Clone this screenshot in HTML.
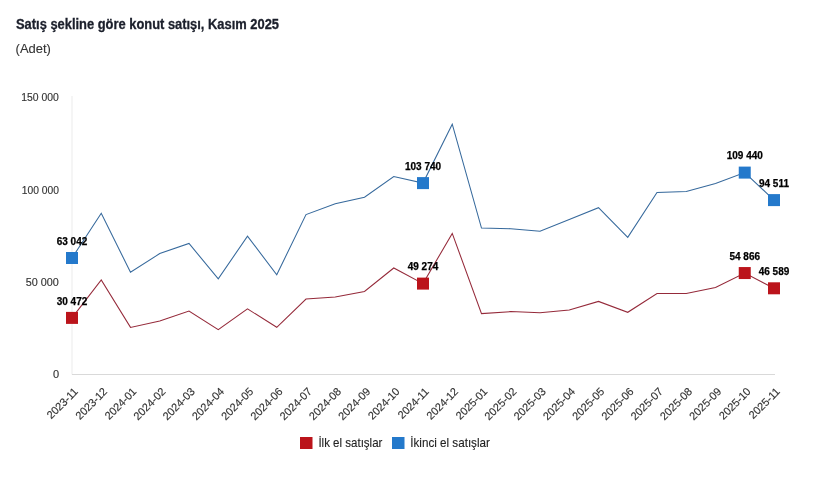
<!DOCTYPE html>
<html><head><meta charset="utf-8"><style>
html,body{margin:0;padding:0;background:#fff;}
body{width:819px;height:504px;overflow:hidden;position:relative;font-family:"Liberation Sans",sans-serif;}
svg{position:absolute;left:0;top:0;will-change:transform;}
.yl{font-size:11px;fill:#333;stroke:#333;stroke-width:0.15px;}
.xl{font-size:11px;fill:#333;stroke:#333;stroke-width:0.15px;}
.tt{font-size:14px;font-weight:bold;fill:#1b1f2b;stroke:#1b1f2b;stroke-width:0.3px;}
.st{font-size:12.5px;fill:#333;stroke:#333;stroke-width:0.1px;}
.dl{font-size:10px;font-weight:bold;fill:#000;stroke:#000;stroke-width:0.25px;}
.lg{font-size:13px;fill:#222;stroke:#222;stroke-width:0.12px;}
</style></head><body>
<svg width="819" height="504" viewBox="0 0 819 504" font-family="Liberation Sans, sans-serif">
<line x1="72" y1="96" x2="72" y2="374.5" stroke="#ebebeb" stroke-width="1"/>
<line x1="72" y1="374.5" x2="775" y2="374.5" stroke="#d9d9d9" stroke-width="1"/>
<text x="21.30" y="101.3" textLength="37.6" lengthAdjust="spacingAndGlyphs" class="yl">150 000</text>
<text x="21.70" y="193.5" textLength="37.2" lengthAdjust="spacingAndGlyphs" class="yl">100 000</text>
<text x="25.80" y="285.7" textLength="33.1" lengthAdjust="spacingAndGlyphs" class="yl">50 000</text>
<text x="59" y="377.5" text-anchor="end" class="yl">0</text>
<text transform="translate(78.70,392.2) rotate(-45)" text-anchor="end" textLength="38.76" lengthAdjust="spacing" class="xl">2023-11</text>
<text transform="translate(107.95,392.2) rotate(-45)" text-anchor="end" textLength="39.56" lengthAdjust="spacing" class="xl">2023-12</text>
<text transform="translate(137.20,392.2) rotate(-45)" text-anchor="end" textLength="39.56" lengthAdjust="spacing" class="xl">2024-01</text>
<text transform="translate(166.45,392.2) rotate(-45)" text-anchor="end" textLength="40.36" lengthAdjust="spacing" class="xl">2024-02</text>
<text transform="translate(195.70,392.2) rotate(-45)" text-anchor="end" textLength="40.36" lengthAdjust="spacing" class="xl">2024-03</text>
<text transform="translate(224.95,392.2) rotate(-45)" text-anchor="end" textLength="40.36" lengthAdjust="spacing" class="xl">2024-04</text>
<text transform="translate(254.20,392.2) rotate(-45)" text-anchor="end" textLength="40.36" lengthAdjust="spacing" class="xl">2024-05</text>
<text transform="translate(283.45,392.2) rotate(-45)" text-anchor="end" textLength="40.36" lengthAdjust="spacing" class="xl">2024-06</text>
<text transform="translate(312.70,392.2) rotate(-45)" text-anchor="end" textLength="40.36" lengthAdjust="spacing" class="xl">2024-07</text>
<text transform="translate(341.95,392.2) rotate(-45)" text-anchor="end" textLength="40.36" lengthAdjust="spacing" class="xl">2024-08</text>
<text transform="translate(371.20,392.2) rotate(-45)" text-anchor="end" textLength="40.36" lengthAdjust="spacing" class="xl">2024-09</text>
<text transform="translate(400.45,392.2) rotate(-45)" text-anchor="end" textLength="39.56" lengthAdjust="spacing" class="xl">2024-10</text>
<text transform="translate(429.70,392.2) rotate(-45)" text-anchor="end" textLength="38.76" lengthAdjust="spacing" class="xl">2024-11</text>
<text transform="translate(458.95,392.2) rotate(-45)" text-anchor="end" textLength="39.56" lengthAdjust="spacing" class="xl">2024-12</text>
<text transform="translate(488.20,392.2) rotate(-45)" text-anchor="end" textLength="39.56" lengthAdjust="spacing" class="xl">2025-01</text>
<text transform="translate(517.45,392.2) rotate(-45)" text-anchor="end" textLength="40.36" lengthAdjust="spacing" class="xl">2025-02</text>
<text transform="translate(546.70,392.2) rotate(-45)" text-anchor="end" textLength="40.36" lengthAdjust="spacing" class="xl">2025-03</text>
<text transform="translate(575.95,392.2) rotate(-45)" text-anchor="end" textLength="40.36" lengthAdjust="spacing" class="xl">2025-04</text>
<text transform="translate(605.20,392.2) rotate(-45)" text-anchor="end" textLength="40.36" lengthAdjust="spacing" class="xl">2025-05</text>
<text transform="translate(634.45,392.2) rotate(-45)" text-anchor="end" textLength="40.36" lengthAdjust="spacing" class="xl">2025-06</text>
<text transform="translate(663.70,392.2) rotate(-45)" text-anchor="end" textLength="40.36" lengthAdjust="spacing" class="xl">2025-07</text>
<text transform="translate(692.95,392.2) rotate(-45)" text-anchor="end" textLength="40.36" lengthAdjust="spacing" class="xl">2025-08</text>
<text transform="translate(722.20,392.2) rotate(-45)" text-anchor="end" textLength="40.36" lengthAdjust="spacing" class="xl">2025-09</text>
<text transform="translate(751.45,392.2) rotate(-45)" text-anchor="end" textLength="39.56" lengthAdjust="spacing" class="xl">2025-10</text>
<text transform="translate(780.70,392.2) rotate(-45)" text-anchor="end" textLength="38.76" lengthAdjust="spacing" class="xl">2025-11</text>
<polyline points="72.00,317.90 101.25,280.00 130.50,327.40 159.75,320.90 189.00,311.00 218.25,329.60 247.50,308.90 276.75,327.30 306.00,299.10 335.25,296.90 364.50,291.40 393.75,268.00 423.00,283.60 452.25,233.40 481.50,313.60 510.75,311.60 540.00,312.80 569.25,309.90 598.50,301.40 627.75,312.30 657.00,293.50 686.25,293.50 715.50,287.40 744.75,273.05 774.00,288.30" fill="none" stroke="#952a3a" stroke-width="1.05" stroke-linejoin="miter"/>
<polyline points="72.00,258.00 101.25,213.20 130.50,272.30 159.75,253.60 189.00,243.40 218.25,278.90 247.50,236.10 276.75,274.80 306.00,214.60 335.25,203.80 364.50,197.30 393.75,176.60 423.00,183.10 452.25,124.20 481.50,228.10 510.75,228.70 540.00,231.20 569.25,219.40 598.50,207.70 627.75,237.30 657.00,192.50 686.25,191.50 715.50,183.40 744.75,172.60 774.00,200.10" fill="none" stroke="#36699c" stroke-width="1.05" stroke-linejoin="miter"/>
<rect x="66.00" y="252.00" width="12" height="12" fill="#2479cb"/>
<rect x="66.00" y="311.90" width="12" height="12" fill="#bb141b"/>
<rect x="417.00" y="177.10" width="12" height="12" fill="#2479cb"/>
<rect x="417.00" y="277.60" width="12" height="12" fill="#bb141b"/>
<rect x="738.75" y="166.60" width="12" height="12" fill="#2479cb"/>
<rect x="738.75" y="267.05" width="12" height="12" fill="#bb141b"/>
<rect x="768.00" y="194.10" width="12" height="12" fill="#2479cb"/>
<rect x="768.00" y="282.30" width="12" height="12" fill="#bb141b"/>
<text x="72.00" y="244.60" text-anchor="middle" class="dl">63 042</text>
<text x="72.00" y="304.50" text-anchor="middle" class="dl">30 472</text>
<text x="423.00" y="169.70" text-anchor="middle" class="dl">103 740</text>
<text x="423.00" y="270.20" text-anchor="middle" class="dl">49 274</text>
<text x="744.75" y="159.20" text-anchor="middle" class="dl">109 440</text>
<text x="744.75" y="259.65" text-anchor="middle" class="dl">54 866</text>
<text x="774.00" y="186.70" text-anchor="middle" class="dl">94 511</text>
<text x="774.00" y="274.90" text-anchor="middle" class="dl">46 589</text>
<text x="16" y="28.7" textLength="263" lengthAdjust="spacingAndGlyphs" class="tt">Satış şekline göre konut satışı, Kasım 2025</text>
<text x="15.6" y="52.6" textLength="35.3" lengthAdjust="spacingAndGlyphs" class="st">(Adet)</text>
<rect x="300" y="437" width="12.5" height="12" fill="#bb141b"/>
<text x="318.4" y="446.7" textLength="64" lengthAdjust="spacingAndGlyphs" class="lg">İlk el satışlar</text>
<rect x="392" y="437" width="12.5" height="12" fill="#2479cb"/>
<text x="410.3" y="446.7" textLength="79.6" lengthAdjust="spacingAndGlyphs" class="lg">İkinci el satışlar</text>
</svg>
</body></html>
